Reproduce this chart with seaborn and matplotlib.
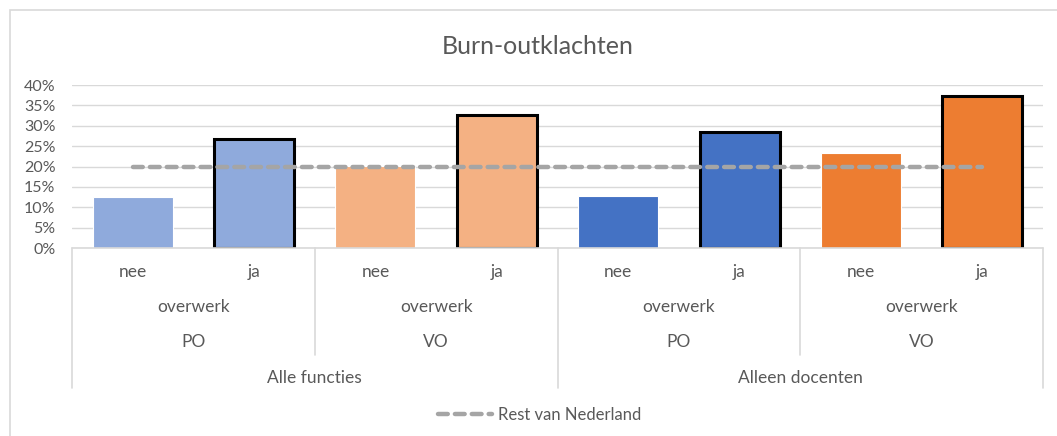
import matplotlib
matplotlib.use("Agg")
import matplotlib.pyplot as plt
import matplotlib.transforms as mtransforms
from matplotlib.patches import Rectangle
from matplotlib.lines import Line2D
import pandas as pd
import seaborn as sns

# data
overwerk = ["nee", "ja", "nee", "ja", "nee", "ja", "nee", "ja"]
sector = ["PO", "VO", "PO", "VO"]
groep = ["Alle functies", "Alleen docenten"]
burnout = [0.125, 0.267, 0.201, 0.326, 0.128, 0.284, 0.233, 0.373]
rest_nl = [0.20] * 8
bar_colors = ["#8FAADC", "#8FAADC", "#F4B183", "#F4B183",
              "#4472C4", "#4472C4", "#ED7D31", "#ED7D31"]

df = pd.DataFrame({
    "pos": [str(i) for i in range(8)],
    "idx": list(range(8)),
    "overwerk": overwerk,
    "burnout": burnout,
    "rest": rest_nl,
})

sns.set_theme(style="white")
plt.rcParams["font.family"] = ["Lato", "DejaVu Sans"]
text_gray = "#595959"
grid_gray = "#D9D9D9"

fig = plt.figure(figsize=(10.57, 4.36), dpi=100)
ax = fig.add_axes([72 / 1057, 1 - 248 / 436, (1043 - 72) / 1057, (248 - 85) / 436])

sns.barplot(data=df, x="pos", y="burnout", hue="pos", palette=bar_colors,
            width=0.66, legend=False, ax=ax, saturation=1)
for patch, ow in zip(ax.patches, overwerk):
    if ow == "ja":
        patch.set_edgecolor("black")
        patch.set_linewidth(2.2)
    else:
        patch.set_edgecolor("white")
        patch.set_linewidth(0.8)

sns.lineplot(data=df, x="idx", y="rest", color="#A5A5A5", linewidth=3.2,
             ax=ax, label="Rest van Nederland", legend=False,
             dashes=False, solid_capstyle="round")
line = ax.lines[-1]
line.set_linestyle((0, (2.2, 1.6)))
line.set_dash_capstyle("round")

ax.set_xlim(-0.5, 7.5)
ax.set_ylim(0, 0.40)
ax.set_yticks([i / 100 for i in range(0, 41, 5)])
ax.set_yticklabels([f"{i}%" for i in range(0, 41, 5)], color=text_gray, fontsize=11.5)
ax.tick_params(axis="y", length=0, pad=12)
ax.set_xticks([])
ax.set_xlabel("")
ax.set_ylabel("")
ax.yaxis.grid(True, color=grid_gray, linewidth=1)
ax.set_axisbelow(True)
for s in ax.spines.values():
    s.set_visible(False)

# multi-level category axis
trans = mtransforms.blended_transform_factory(ax.transData, fig.transFigure)
fy = lambda py: 1 - py / 436
ax.add_line(Line2D([-0.5, 7.5], [fy(248), fy(248)], transform=trans,
                   color=grid_gray, lw=1.2, clip_on=False))
for xv in [-0.5, 3.5, 7.5]:
    ax.add_line(Line2D([xv, xv], [fy(248), fy(388)], transform=trans,
                       color=grid_gray, lw=1.2, clip_on=False))
for xv in [1.5, 5.5]:
    ax.add_line(Line2D([xv, xv], [fy(248), fy(355)], transform=trans,
                       color=grid_gray, lw=1.2, clip_on=False))

kw = dict(transform=trans, ha="center", va="center", color=text_gray,
          fontsize=12.5, clip_on=False)
for i, lab in enumerate(overwerk):
    ax.text(i, fy(272), lab, **kw)
for j in range(4):
    ax.text(2 * j + 0.5, fy(307), "overwerk", **kw)
    ax.text(2 * j + 0.5, fy(342), sector[j], **kw)
for k, g in enumerate(groep):
    ax.text(4 * k + 1.5, fy(378), g, **kw)

fig.text(538 / 1057, fy(46), "Burn-outklachten", ha="center", va="center",
         fontsize=18, color=text_gray)

leg = fig.legend(handles=[line], labels=["Rest van Nederland"], loc="center",
                 bbox_to_anchor=(540 / 1057, fy(415)), frameon=False,
                 fontsize=12, handlelength=3.2, handletextpad=0.4)
for t in leg.get_texts():
    t.set_color(text_gray)

fig.patches.append(Rectangle((10 / 1057, -0.1), 1.2, 1 - 10 / 436 + 0.1,
                             transform=fig.transFigure, fill=False,
                             edgecolor=grid_gray, lw=1.2))

fig.savefig("out.png", dpi=100)
